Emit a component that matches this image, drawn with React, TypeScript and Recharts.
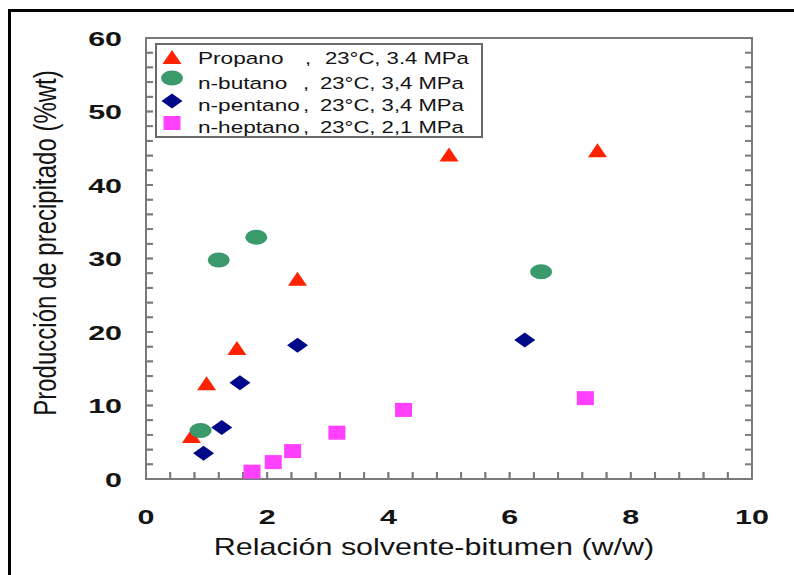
import React from "react";
import { ScatterChart, Scatter, XAxis, YAxis, ReferenceArea, ReferenceLine } from "recharts";

// Measured points, one pair of arrays per solvent
const propanoX = [0.75, 1.0, 1.5, 2.5, 5.0, 7.45];
const propanoY = [5.7, 12.9, 17.7, 27.1, 44.0, 44.6];
const butanoX = [0.9, 1.2, 1.82, 6.52];
const butanoY = [6.6, 29.8, 32.9, 28.2];
const pentanoX = [0.95, 1.25, 1.55, 2.5, 6.25];
const pentanoY = [3.5, 7.0, 13.1, 18.2, 18.9];
const heptanoX = [1.75, 2.1, 2.42, 3.15, 4.25, 7.25];
const heptanoY = [1.0, 2.3, 3.8, 6.3, 9.4, 11.0];

const seriesNames = ["Propano", "n-butano", "n-pentano", "n-heptano"];
const seriesConditions = ["23°C, 3.4 MPa", "23°C, 3,4 MPa", "23°C, 3,4 MPa", "23°C, 2,1 MPa"];
const seriesColors = ["#ff2200", "#3a9a6c", "#000a88", "#ff40ff"];

const xTitle = "Relación solvente-bitumen (w/w)";
const yTitle = "Producción de precipitado (%wt)";

const xDomain = [0, 10];
const yDomain = [0, 60];
const xTicks = [0, 0.4, 0.8, 1.2, 1.6, 2, 2.4, 2.8, 3.2, 3.6, 4, 4.4, 4.8, 5.2, 5.6, 6, 6.4, 6.8, 7.2, 7.6, 8, 8.4, 8.8, 9.2, 9.6, 10];
const xLabelTicks = [0, 2, 4, 6, 8, 10];
const yTicks = [0, 2, 4, 6, 8, 10, 12, 14, 16, 18, 20, 22, 24, 26, 28, 30, 32, 34, 36, 38, 40, 42, 44, 46, 48, 50, 52, 54, 56, 58, 60];
const yLabelTicks = [0, 10, 20, 30, 40, 50, 60];

// inward tick mark lengths in data units (about 7px each way)
const xTickLen = 0.95; // along y
const yTickLen = 0.115; // along x

const toPoints = (xs: number[], ys: number[]) => xs.map((x, i) => ({ x, y: ys[i] }));
const seriesData = [
  toPoints(propanoX, propanoY),
  toPoints(butanoX, butanoY),
  toPoints(pentanoX, pentanoY),
  toPoints(heptanoX, heptanoY),
];

const FONT = "'Liberation Sans', Arial, sans-serif";
const TEXT = "#141414";
const FRAME = "#7a7a7a";
const TICK = "#666";
const SX = 1.3; // text is drawn wide
const TICK_SX = 1.45;

const Triangle = ({ cx, cy, fill }: any) => (
  <polygon points={`${cx},${cy - 8} ${cx + 9.5},${cy + 6} ${cx - 9.5},${cy + 6}`} fill={fill} />
);
const Ellipse = ({ cx, cy, fill }: any) => <ellipse cx={cx} cy={cy} rx={11} ry={7.5} fill={fill} />;
const Diamond = ({ cx, cy, fill }: any) => (
  <polygon points={`${cx},${cy - 7.5} ${cx + 10.5},${cy} ${cx},${cy + 7.5} ${cx - 10.5},${cy}`} fill={fill} />
);
const Square = ({ cx, cy, fill }: any) => <rect x={cx - 8.5} y={cy - 7} width={17} height={14} fill={fill} />;
const shapes = [Triangle, Ellipse, Diamond, Square];

const EmptyTick = () => <g />;

function XTick({ x, y, payload }: any) {
  if (!xLabelTicks.includes(payload.value)) return <g />;
  return (
    <text
      transform={`translate(${x},${y + 45}) scale(${TICK_SX},1)`}
      textAnchor="middle"
      fontFamily={FONT}
      fontWeight="bold"
      fontSize={21}
      fill={TEXT}
      stroke="none"
    >
      {payload.value}
    </text>
  );
}

function YTick({ x, y, payload }: any) {
  if (!yLabelTicks.includes(payload.value)) return <g />;
  return (
    <text
      transform={`translate(${x - 24},${y + 7.5}) scale(${TICK_SX},1)`}
      textAnchor="end"
      fontFamily={FONT}
      fontWeight="bold"
      fontSize={21}
      fill={TEXT}
      stroke="none"
    >
      {payload.value}
    </text>
  );
}

const legendTextY = [64, 89, 111, 133];
const legendMarkY = [58, 78, 101, 123];

// axis titles and the key box sit on top of the chart svg
function Overlay() {
  return (
    <svg width={794} height={575} style={{ position: "absolute", left: 0, top: 0, pointerEvents: "none" }}>
      <text transform="translate(434,555) scale(1.27,1)" textAnchor="middle" fontFamily={FONT} fontSize={24} fill={TEXT}>
        {xTitle}
      </text>
      <text
        transform="translate(56,243) scale(1.3,1) rotate(-90)"
        textAnchor="middle"
        fontFamily={FONT}
        fontSize={24}
        fill={TEXT}
      >
        {yTitle}
      </text>
      <rect x={156} y={44} width={326} height={93} fill="#fff" stroke="#6a6a6a" strokeWidth={2} />
      {seriesNames.map((name, i) => {
        const Shape = shapes[i];
        return (
          <g key={name}>
            <Shape cx={172} cy={legendMarkY[i]} fill={seriesColors[i]} />
            <g fontFamily={FONT} fontSize={17} fill={TEXT}>
              <text transform={`translate(198,${legendTextY[i]}) scale(1.33,1)`}>{name}</text>
              <text transform={`translate(${i === 0 ? 305 : 303},${legendTextY[i]}) scale(${SX},1)`}>,</text>
              <text transform={`translate(${i === 0 ? 325 : 320},${legendTextY[i]}) scale(${SX},1)`}>
                {seriesConditions[i]}
              </text>
            </g>
          </g>
        );
      })}
    </svg>
  );
}

const frameAxis = {
  type: "number" as const,
  interval: 0 as const,
  tickSize: -7,
  stroke: FRAME,
  strokeWidth: 2,
};

export default function App() {
  return (
    <div style={{ position: "absolute", left: 0, top: 0, width: 794, height: 575, background: "#fff", overflow: "hidden" }}>
      <div
        style={{
          position: "absolute",
          left: 8,
          top: 9,
          width: 800,
          height: 580,
          borderLeft: "3px solid #000",
          borderTop: "3px solid #000",
        }}
      />
      <ScatterChart width={794} height={575} margin={{ top: 37, right: 41, bottom: 36, left: 66 }}>
        <XAxis
          {...frameAxis}
          dataKey="x"
          domain={xDomain}
          ticks={xTicks}
          height={60}
          tickMargin={7}
          tick={<XTick />}
        />
        <XAxis
          {...frameAxis}
          xAxisId="top"
          orientation="top"
          domain={xDomain}
          allowDataOverflow
          ticks={xTicks}
          height={1}
          tick={<EmptyTick />}
        />
        <YAxis
          {...frameAxis}
          dataKey="y"
          domain={yDomain}
          ticks={yTicks}
          width={80}
          tickMargin={7}
          tick={<YTick />}
        />
        <YAxis
          {...frameAxis}
          yAxisId="right"
          orientation="right"
          domain={yDomain}
          allowDataOverflow
          ticks={yTicks}
          width={1}
          tick={<EmptyTick />}
        />
        {/* inward marks along the bottom and left edges */}
        {xTicks.map((t) => (
          <ReferenceLine
            key={`bx${t}`}
            segment={[
              { x: t, y: yDomain[0] },
              { x: t, y: yDomain[0] + xTickLen },
            ]}
            stroke={TICK}
            strokeWidth={1.5}
            ifOverflow="visible"
          />
        ))}
        {yTicks.map((t) => (
          <ReferenceLine
            key={`ly${t}`}
            segment={[
              { x: xDomain[0], y: t },
              { x: xDomain[0] + yTickLen, y: t },
            ]}
            stroke={TICK}
            strokeWidth={1.5}
            ifOverflow="visible"
          />
        ))}
        <ReferenceArea
          x1={xDomain[0]}
          x2={xDomain[1]}
          y1={yDomain[0]}
          y2={yDomain[1]}
          fill="none"
          stroke={FRAME}
          strokeWidth={2}
        />
        {seriesNames.map((name, i) => (
          <Scatter
            key={name}
            name={name}
            data={seriesData[i]}
            fill={seriesColors[i]}
            shape={shapes[i]}
            isAnimationActive={false}
          />
        ))}
      </ScatterChart>
      <Overlay />
    </div>
  );
}
